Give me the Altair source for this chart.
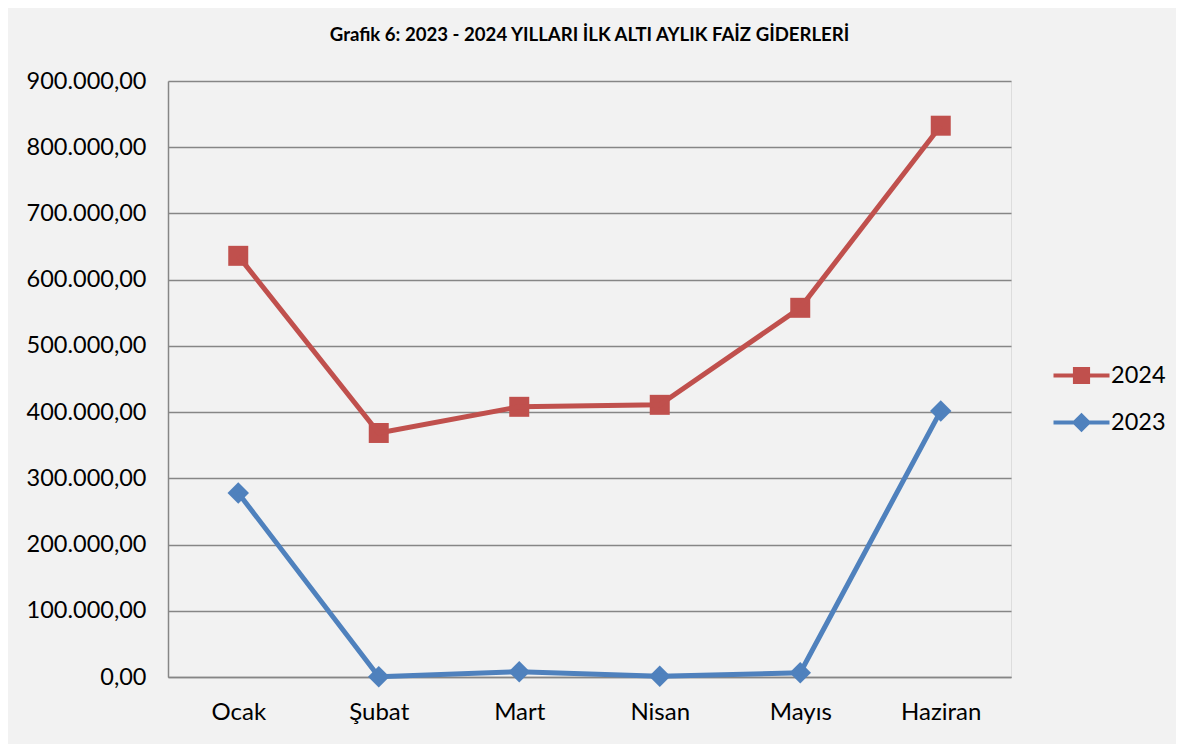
import altair as alt
import pandas as pd

months = ["Ocak", "Şubat", "Mart", "Nisan", "Mayıs", "Haziran"]
series = ["2024", "2023"]
values_2024 = [636000, 368500, 408000, 411000, 557500, 832500]
values_2023 = [278000, 500, 8000, 1000, 6500, 401800]
title_text = "Grafik 6: 2023 - 2024 YILLARI İLK ALTI AYLIK FAİZ GİDERLERİ"

rows = []
for s, vals in zip(series, [values_2024, values_2023]):
    for m, v in zip(months, vals):
        rows.append({"Ay": m, "Seri": s, "Deger": v})
df = pd.DataFrame(rows)

FONT = "Lato"
GRID = "#868686"
RED = "#C0504D"
BLUE = "#4F81BD"

# legend glyphs: a short line with the series marker on it
P24 = ("M-1.6,-0.114L1.6,-0.114L1.6,0.114L-1.6,0.114Z "
       "M-0.49,-0.49L0.49,-0.49L0.49,0.49L-0.49,0.49Z")
P23 = ("M-1.6,-0.114L1.6,-0.114L1.6,0.114L-1.6,0.114Z "
       "M0,-0.56L0.56,0L0,0.56L-0.56,0Z")

legend = alt.Legend(
    title=None,
    orient="none",
    legendX=896,
    legendY=277,
    padding=0,
    symbolSize=1225,
    symbolStrokeWidth=0,
    symbolOpacity=1,
    labelFont=FONT,
    labelFontSize=23.5,
    labelColor="black",
    labelOffset=12,
    rowPadding=18,
)

color_scale = alt.Scale(domain=series, range=[RED, BLUE])

x = alt.X(
    "Ay:N",
    sort=months,
    scale=alt.Scale(type="point", padding=0.5),
    axis=alt.Axis(
        title=None, labelFont=FONT, labelFontSize=24, labelColor="black",
        labelAngle=0, ticks=False, domainColor=GRID, domainWidth=1.5,
        labelPadding=23, grid=False,
    ),
)
y = alt.Y(
    "Deger:Q",
    scale=alt.Scale(domain=[0, 900000], nice=False),
    axis=alt.Axis(
        title=None, values=list(range(0, 900001, 100000)), format=",.2f",
        labelFont=FONT, labelFontSize=23.5, labelColor="black", ticks=False,
        labelPadding=22, gridColor=GRID, gridWidth=1.5, domainColor=GRID,
        domainWidth=1.5,
    ),
)

base = alt.Chart(df)

legend_layer = base.mark_point(filled=True, opacity=0).encode(
    x=x, y=y,
    color=alt.Color("Seri:N", scale=color_scale, legend=legend),
    shape=alt.Shape("Seri:N", scale=alt.Scale(domain=series, range=[P24, P23]),
                    legend=legend),
)
squares = base.mark_point(filled=True, opacity=1, shape="square", size=400).encode(
    x=x, y=y, fill=alt.Fill("Seri:N", scale=color_scale, legend=None),
).transform_filter(alt.datum.Seri == "2024")
diamonds = base.mark_point(filled=True, opacity=1, shape="diamond", size=460).encode(
    x=x, y=y, fill=alt.Fill("Seri:N", scale=color_scale, legend=None),
).transform_filter(alt.datum.Seri == "2023")
line = base.mark_line(strokeWidth=5).encode(
    x=x, y=y, stroke=alt.Stroke("Seri:N", scale=color_scale, legend=None)
)

chart = (
    alt.layer(legend_layer, squares, diamonds, line)
    .properties(
        width=843,
        height=596,
        title=alt.TitleParams(
            title_text, font=FONT, fontSize=18.6, fontWeight="bold",
            color="black", anchor="middle", offset=24,
        ),
        padding={"left": 18, "top": 18, "right": 10, "bottom": 20},
        background="#f2f2f2",
    )
    .configure_view(fill="white", strokeWidth=0)
    .configure(locale={"number": {"decimal": ",", "thousands": ".",
                                  "grouping": [3], "currency": ["", ""]}})
)

chart.save("out.html", embed_options={"renderer": "svg", "actions": False})
